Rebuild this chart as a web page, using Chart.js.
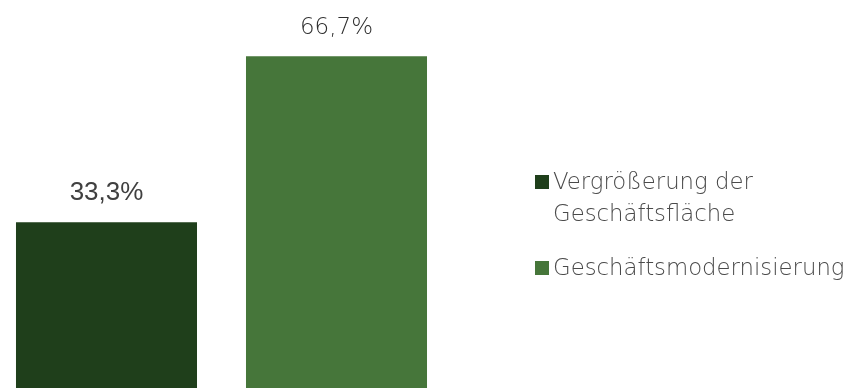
<!DOCTYPE html>
<html lang="de">
<head>
<meta charset="utf-8">
<title>Geschäftsmaßnahmen</title>
<script src="https://cdn.jsdelivr.net/npm/chart.js@4/dist/chart.umd.min.js"></script>
<style>
  html, body { margin: 0; padding: 0; background: #ffffff; }
  #wrap { position: relative; width: 854px; height: 388px; }
</style>
</head>
<body>
<div id="wrap"><canvas id="chart" width="854" height="388"></canvas></div>
<script>
// Series: one bar per measure, shares in percent
const categories = [''];
const seriesNames = ['Vergrößerung der\nGeschäftsfläche', 'Geschäftsmodernisierung'];
const seriesValues = [[33.3], [66.7]];
const seriesColors = ['#1f3f1b', '#46763a'];

const legendFont = '200 22.8px "DejaVu Sans", sans-serif';
const legendColor = '#4a4a4a';
const valueFonts = ['26px "Liberation Sans", Arial, sans-serif', '200 23px "DejaVu Sans", sans-serif'];
const valueColors = ['#404040', '#2e2e2e'];

function formatPercent(v) {
  return v.toFixed(1).replace('.', ',') + '%';
}

// Value labels above each bar
const valueLabels = {
  id: 'valueLabels',
  afterDatasetsDraw(chart) {
    const ctx = chart.ctx;
    ctx.save();
    ctx.textAlign = 'center';
    ctx.textBaseline = 'alphabetic';
    chart.data.datasets.forEach((ds, i) => {
      const meta = chart.getDatasetMeta(i);
      meta.data.forEach((bar, j) => {
        ctx.font = valueFonts[i];
        ctx.fillStyle = valueColors[i];
        ctx.fillText(formatPercent(ds.data[j]), bar.x, bar.y - 22);
      });
    });
    ctx.restore();
  }
};

// Legend on the right: square swatch plus wrapped series name
const sideLegend = {
  id: 'sideLegend',
  afterDraw(chart) {
    const ctx = chart.ctx;
    ctx.save();
    ctx.font = legendFont;
    ctx.textAlign = 'left';
    ctx.textBaseline = 'alphabetic';
    let baseline = 189;
    chart.data.datasets.forEach((ds) => {
      const lines = ds.label.split('\n');
      ctx.fillStyle = ds.backgroundColor;
      ctx.fillRect(535, baseline - 14, 14, 14);
      ctx.fillStyle = legendColor;
      lines.forEach((line, k) => {
        ctx.fillText(line, 553, baseline + k * 31.5);
      });
      baseline += (lines.length - 1) * 31.5 + 54.5;
    });
    ctx.restore();
  }
};

new Chart(document.getElementById('chart'), {
  type: 'bar',
  data: {
    labels: categories,
    datasets: seriesNames.map((name, i) => ({
      label: name,
      data: seriesValues[i],
      backgroundColor: seriesColors[i],
      borderWidth: 0,
      categoryPercentage: 1.0384,
      barPercentage: 0.787
    }))
  },
  options: {
    responsive: false,
    animation: false,
    layout: { padding: { left: 0, right: 411, top: 0, bottom: 0 } },
    plugins: {
      legend: { display: false },
      tooltip: { enabled: false }
    },
    scales: {
      x: { display: false },
      y: { display: false, min: 0, max: 78.0 }
    }
  },
  plugins: [valueLabels, sideLegend]
});
</script>
</body>
</html>
